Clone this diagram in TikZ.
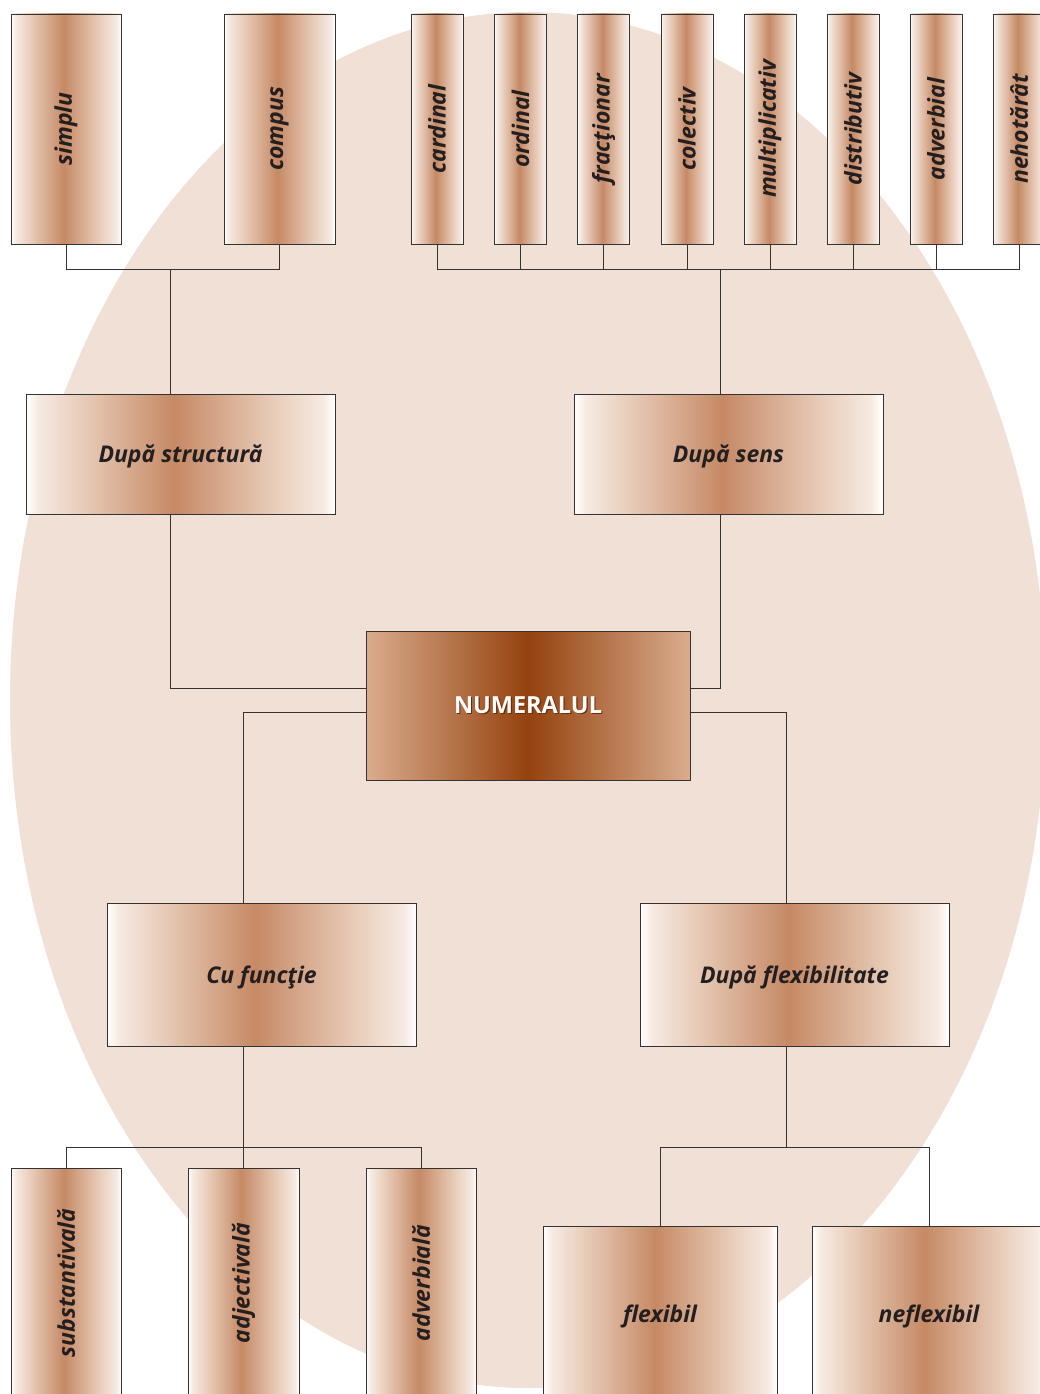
\documentclass[tikz,border=0pt]{standalone}
\usepackage{fontspec}
\setmainfont{Open Sans}
\usetikzlibrary{calc}
\definecolor{bgc}{RGB}{240,224,213}
\definecolor{cuA}{RGB}{234,208,190}
\definecolor{cuB}{RGB}{198,137,101}
\definecolor{neA}{RGB}{218,172,142}
\definecolor{neB}{RGB}{148,66,14}
\definecolor{linec}{RGB}{51,51,51}
\definecolor{txt}{RGB}{35,31,32}
\definecolor{shadowc}{RGB}{110,45,10}
\pgfdeclarehorizontalshading{copper}{100bp}{color(0bp)=(white); color(25bp)=(white); color(27bp)=(white!55!cuA); color(33bp)=(cuA); color(49bp)=(cuB); color(66bp)=(cuA); color(73bp)=(white!55!cuA); color(75bp)=(white); color(100bp)=(white)}
\pgfdeclarehorizontalshading{core}{100bp}{color(0bp)=(neA); color(25bp)=(neA); color(50bp)=(neB); color(75bp)=(neA); color(100bp)=(neA)}
\newcommand{\rottxt}[1]{\rotatebox{90}{#1}}
\tikzset{
  box/.style={draw=linec, line width=0.9pt, shade, shading=copper, inner sep=0pt,
    text=txt, font=\fontsize{23}{26}\selectfont\bfseries\itshape},
  hbox/.style={box, text depth=0pt},
  sz/.style 2 args={minimum width=#1pt, minimum height=#2pt},
  corebox/.style={draw=linec, line width=0.9pt, shade, shading=core, inner sep=0pt,
    text=white, font=\fontsize{23.5}{28}\selectfont\bfseries},
  conn/.style={draw=linec, line width=0.9pt}
}
\begin{document}
\begin{tikzpicture}[x=1pt,y=-1pt]
\useasboundingbox (0,0) rectangle (1040,1394);
\clip (0,0) rectangle (1040,1394);
\fill[bgc] (528,700) ellipse [x radius=518pt, y radius=688pt];
% top row
\node[box, sz={110}{230}] (simplu) at (66,129) {\rottxt{simplu}};
\node[box, sz={111}{230}] (compus) at (279.5,129) {\rottxt{compus}};
\node[box, sz={52}{230}] (cardinal) at (437,129) {\rottxt{cardinal}};
\node[box, sz={52}{230}] (ordinal) at (520.5,129) {\rottxt{ordinal}};
\node[box, sz={52}{230}] (fractionar) at (603.5,129) {\rottxt{fracţionar}};
\node[box, sz={52}{230}] (colectiv) at (687,129) {\rottxt{colectiv}};
\node[box, sz={52}{230}] (multiplicativ) at (770,129) {\rottxt{multiplicativ}};
\node[box, sz={52}{230}] (distributiv) at (853,129) {\rottxt{distributiv}};
\node[box, sz={52}{230}] (adverbial) at (936,129) {\rottxt{adverbial}};
\node[box, sz={52}{230}] (nehotarat) at (1019,129) {\rottxt{nehotărât}};
% middle
\node[hbox, sz={309}{120}] (dstr) at (180.5,454) {După structură};
\node[hbox, sz={309}{120}] (dsens) at (728.5,454) {După sens};
\node[corebox, sz={324}{149}] (num) at (528,705.5) {\rlap{\color{shadowc}\kern1.2pt\raisebox{-1.2pt}{NUMERALUL}}NUMERALUL};
\node[hbox, sz={309}{143}] (cf) at (261.5,974.5) {Cu funcţie};
\node[hbox, sz={309}{143}] (dflex) at (794.5,974.5) {După flexibilitate};
% bottom
\node[box, sz={110}{230}] (subst) at (66,1283) {\rottxt{substantivală}};
\node[box, sz={111}{230}] (adj) at (243.5,1283) {\rottxt{adjectivală}};
\node[box, sz={110}{230}] (advb) at (421,1283) {\rottxt{adverbială}};
\node[hbox, sz={234}{176}] (flex) at (660,1314) {flexibil};
\node[hbox, sz={234}{176}] (neflex) at (929,1314) {neflexibil};
% junctions
\coordinate (j1) at (170,269);
\coordinate (j2) at (720,269);
\coordinate (j3) at (786,1148);
% connectors top-left
\draw[conn] (simplu.south) -- ++(0,25) -| (compus.south);
\draw[conn] (j1) -- (dstr.north -| j1);
% connectors top-right
\draw[conn] (cardinal.south) -- ++(0,25) -| (nehotarat.south);
\foreach \n in {ordinal,fractionar,colectiv,multiplicativ,distributiv,adverbial}
  \draw[conn] (\n.south) -- ++(0,25);
\draw[conn] (j2) -- (dsens.north -| j2);
% to NUMERALUL
\draw[conn] (dstr.south -| j1) |- ([yshift=17.5pt]num.west);
\draw[conn] (dsens.south -| j2) |- ([yshift=17.5pt]num.east);
\draw[conn] ([yshift=-6.5pt]num.west) -| (cf.north -| adj.north);
\draw[conn] ([yshift=-6.5pt]num.east) -| (dflex.north -| j3);
% bottom left
\draw[conn] (cf.south -| adj.north) -- (adj.north);
\draw[conn] (subst.north) -- ++(0,-20) -| (advb.north);
% bottom right
\draw[conn] (dflex.south -| j3) -- (j3);
\draw[conn] (flex.north) -- ++(0,-78) -| (neflex.north);
\end{tikzpicture}
\end{document}
